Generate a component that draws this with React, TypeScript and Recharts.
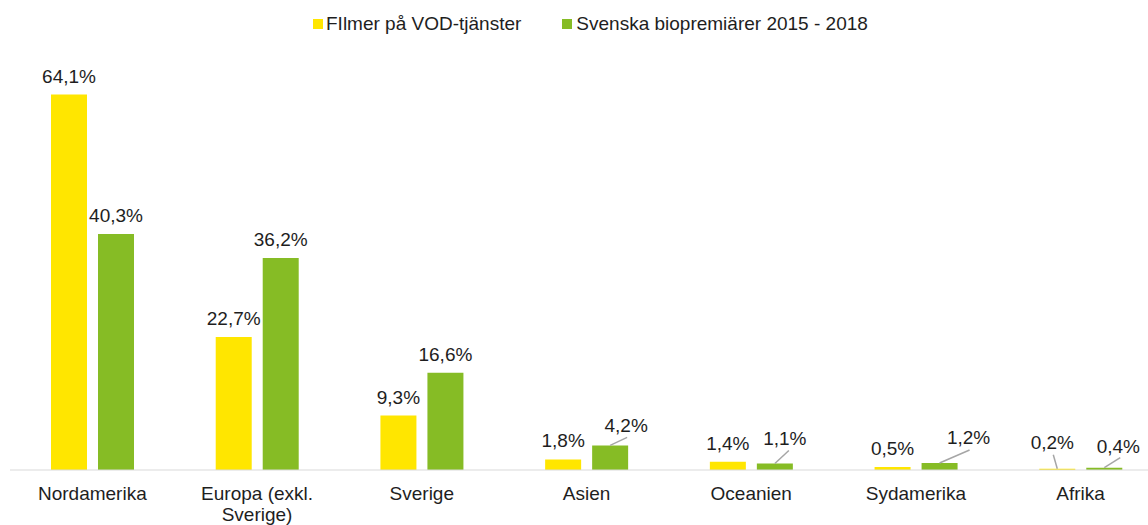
import { BarChart, Bar, XAxis, YAxis, Legend, LabelList, Text } from "recharts";

const categories = [
  "Nordamerika",
  "Europa (exkl. Sverige)",
  "Sverige",
  "Asien",
  "Oceanien",
  "Sydamerika",
  "Afrika",
];
const vodShare = [64.1, 22.7, 9.3, 1.8, 1.4, 0.5, 0.2];
const bioShare = [40.3, 36.2, 16.6, 4.2, 1.1, 1.2, 0.4];
const seriesNames = ["FIlmer på VOD-tjänster", "Svenska biopremiärer 2015 - 2018"];

const YELLOW = "#FFE600";
const GREEN = "#86BC25";
const TEXT = "#1e1e1e";
const FONT = "'Liberation Sans', Arial, sans-serif";

const data = categories.map((name, i) => ({ name, vod: vodShare[i], bio: bioShare[i] }));

// labels for the small bars sit beside the bar with a leader line
// dx/dy: label centre relative to bar top centre, lx/ly: end of leader line
type Callout = { dx: number; dy: number; lx: number; ly: number };
const callouts: Record<string, Callout> = {
  "bio-3": { dx: 16, dy: -20, lx: 17, ly: -8 },
  "bio-4": { dx: 10, dy: -26, lx: 14, ly: -13 },
  "bio-5": { dx: 29, dy: -26, lx: 30, ly: -13 },
  "vod-6": { dx: -5, dy: -27, lx: -4, ly: -14 },
  "bio-6": { dx: 14, dy: -22, lx: 16, ly: -10 },
};

const fmt = (v: number) => v.toFixed(1).replace(".", ",") + "%";

const makeLabel = (key: string) => (props: any) => {
  const { x, y, width, value, index } = props;
  const cx = x + width / 2;
  const c = callouts[`${key}-${index}`];
  if (!c) {
    return (
      <text x={cx} y={y - 12} textAnchor="middle" fontSize={19} fill={TEXT} fontFamily={FONT}>
        {fmt(value)}
      </text>
    );
  }
  return (
    <g>
      <line x1={cx} y1={y} x2={cx + c.lx} y2={y + c.ly} stroke="#a6a6a6" strokeWidth={1.5} />
      <text x={cx + c.dx} y={y + c.dy + 7} textAnchor="middle" fontSize={19} fill={TEXT} fontFamily={FONT}>
        {fmt(value)}
      </text>
    </g>
  );
};

const CategoryTick = (props: any) => {
  const { x, y, payload } = props;
  return (
    <Text
      x={x}
      y={y}
      width={140}
      textAnchor="middle"
      verticalAnchor="start"
      lineHeight={21}
      fontSize={19}
      fill={TEXT}
      fontFamily={FONT}
    >
      {payload.value}
    </Text>
  );
};

const LegendBox = () => (
  <div style={{ display: "flex", alignItems: "center", fontSize: 19, lineHeight: "22px", color: TEXT, fontFamily: FONT }}>
    <span style={{ width: 10, height: 10, background: YELLOW, marginRight: 3 }} />
    <span style={{ marginRight: 41 }}>{seriesNames[0]}</span>
    <span style={{ width: 10, height: 10, background: GREEN, marginRight: 4 }} />
    <span>{seriesNames[1]}</span>
  </div>
);

export default function App() {
  return (
    <div
      style={{
        position: "absolute",
        left: 0,
        top: 0,
        width: 1148,
        height: 525,
        overflow: "hidden",
        background: "#fff",
        fontFamily: FONT,
      }}
    >
      <BarChart
        width={1163}
        height={525}
        data={data}
        margin={{ top: 38, right: 0, bottom: 5, left: 10 }}
        barGap={11}
        barSize={36}
      >
        <XAxis
          dataKey="name"
          interval={0}
          tickLine={false}
          tickSize={0}
          tickMargin={17}
          height={50}
          axisLine={{ stroke: "#d9d9d9", strokeWidth: 1 }}
          tick={<CategoryTick />}
        />
        <YAxis hide domain={[0, 70]} />
        <Legend
          layout="vertical"
          align="center"
          verticalAlign="top"
          wrapperStyle={{ position: "absolute", left: 313, top: 13, width: "auto" }}
          content={<LegendBox />}
        />
        <Bar dataKey="vod" name={seriesNames[0]} fill={YELLOW} isAnimationActive={false}>
          <LabelList dataKey="vod" content={makeLabel("vod")} />
        </Bar>
        <Bar dataKey="bio" name={seriesNames[1]} fill={GREEN} isAnimationActive={false}>
          <LabelList dataKey="bio" content={makeLabel("bio")} />
        </Bar>
      </BarChart>
    </div>
  );
}
